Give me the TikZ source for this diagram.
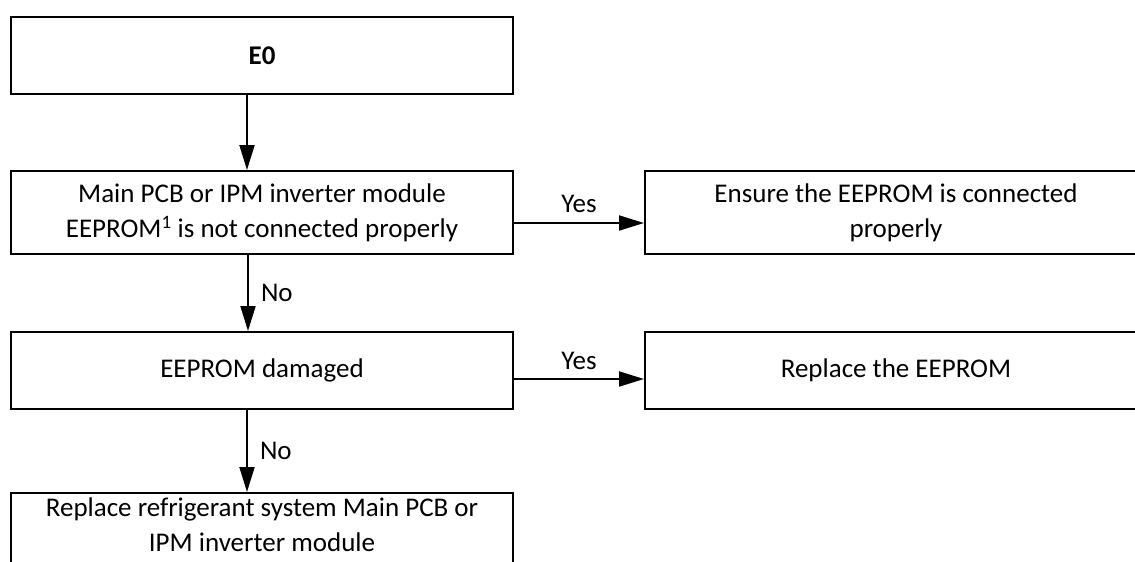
\documentclass[tikz,border=0pt]{standalone}
\usepackage{fontspec}
\setmainfont{Carlito}
\usetikzlibrary{arrows.meta}
\begin{document}
\begin{tikzpicture}[x=1pt,y=-1pt,
  box/.style={draw, line width=2pt, minimum width=502pt, minimum height=#1, inner sep=0pt, align=center, font=\fontsize{27}{35}\selectfont},
  box/.default=83pt,
  arr/.style={line width=2pt, -{Triangle[length=25pt,width=15pt]}},
  lbl/.style={font=\fontsize{27}{35}\selectfont, inner sep=0pt, align=center}]
\useasboundingbox (0,0) rectangle (1135,562);
\clip (0,0) rectangle (1135,562);
\node[box=77pt] (e0) at (262,55.5) {\textbf{E0}};
\node[box=83pt] (b2) at (262,212.5) {Main PCB or IPM inverter module\\EEPROM\textsuperscript{1} is not connected properly};
\node[box=83pt] (b3) at (896,212.5) {Ensure the EEPROM is connected\\properly};
\node[box=77pt] (b4) at (262,370.5) {EEPROM damaged};
\node[box=77pt] (b5) at (896,370.5) {Replace the EEPROM};
\node[box=83pt] (b6) at (262,534.5) {};
\node[lbl] (t6) at (262,525) {Replace refrigerant system Main PCB or\\IPM inverter module};
\draw[arr] ([xshift=-15pt]e0.south) -- ([xshift=-15pt]b2.north);
\draw[arr] ([xshift=-14pt]b2.south) -- node[lbl, right=12pt]{No} ([xshift=-14pt]b4.north);
\draw[arr] ([xshift=-15pt]b4.south) -- node[lbl, right=12pt]{No} ([xshift=-15pt]b6.north);
\draw[arr] ([yshift=-10.5pt]b2.east) -- node[lbl, above=9pt]{Yes} ([yshift=-10.5pt]b3.west);
\draw[arr] ([yshift=-8.5pt]b4.east) -- node[lbl, above=8pt]{Yes} ([yshift=-8.5pt]b5.west);
\end{tikzpicture}
\end{document}
